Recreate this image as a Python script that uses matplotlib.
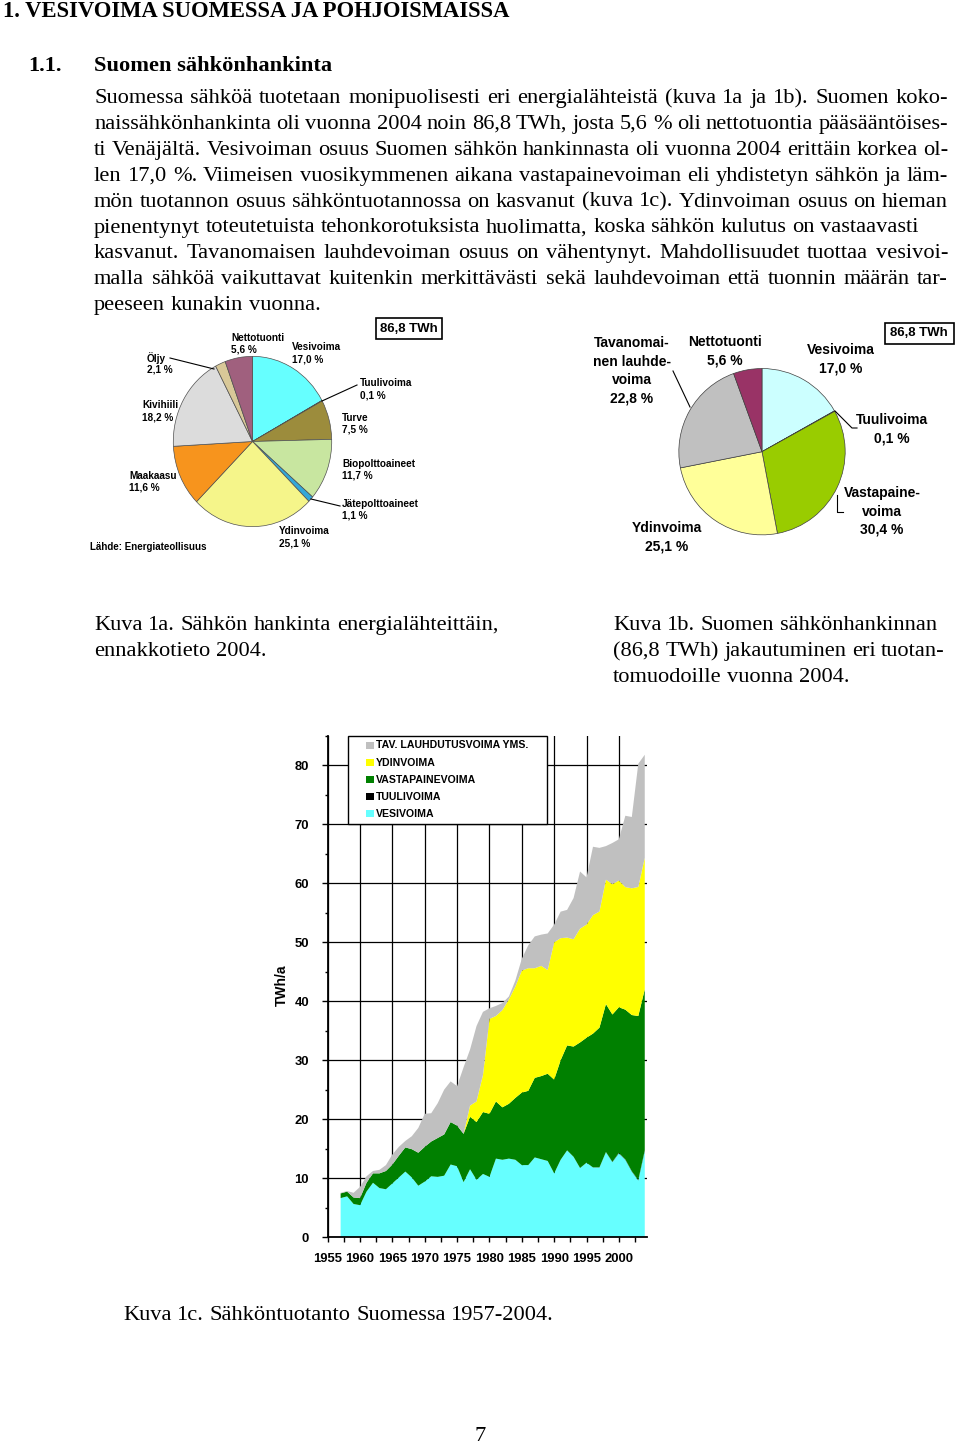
import numpy as np
import matplotlib
matplotlib.use('Agg')
import matplotlib.pyplot as plt
from matplotlib.patches import Rectangle

W, H = 960, 1444
SERIF = ['Liberation Serif', 'DejaVu Serif']
SANS = ['Liberation Sans', 'DejaVu Sans']

# ---------------------------------------------------------------- data
# Kuva 1a: hankinta energialähteittäin (%)
p1_names = ['Vesivoima', 'Tuulivoima', 'Turve', 'Biopolttoaineet',
            'Jätepolttoaineet', 'Ydinvoima', 'Maakaasu', 'Kivihiili',
            'Öljy', 'Nettotuonti']
p1_values = [17.0, 0.1, 7.5, 11.7, 1.1, 25.1, 11.6, 18.2, 2.1, 5.6]
p1_colors = ['#66FFFF', '#000000', '#9C8C3C', '#C8E6A0', '#33A8D8',
             '#F5F58A', '#F7941D', '#DCDCDC', '#D8C898', '#A0607E']

# Kuva 1b: jakautuminen tuotantomuodoille (%)
p2_names = ['Vesivoima', 'Tuulivoima', 'Vastapaine-\nvoima', 'Ydinvoima',
            'Tavanomai-\nnen lauhde-\nvoima', 'Nettotuonti']
p2_values = [17.0, 0.1, 30.4, 25.1, 22.8, 5.6]
p2_colors = ['#CCFFFF', '#000080', '#99CC00', '#FFFF99', '#C0C0C0', '#993366']

total_twh = 86.8

# Kuva 1c: sähköntuotanto 1957-2004 (TWh/a)
years = np.arange(1957, 2005)
vesi = [6.6, 6.9, 5.6, 5.4, 7.7, 9.2, 8.3, 8.1, 9.1, 10.1,
        11.1, 10.1, 8.7, 9.4, 10.3, 10.2, 10.4, 12.3, 12.0, 9.3,
        11.5, 9.7, 10.7, 10.2, 13.3, 13.1, 13.3, 13.1, 12.2, 12.2,
        13.5, 13.2, 12.9, 10.8, 13.1, 14.7, 13.6, 11.7, 12.6, 11.8,
        11.8, 14.4, 12.7, 14.2, 13.1, 11.1, 9.6, 14.6]
tuuli = [0.0] * 36 + [0.01, 0.01, 0.01, 0.01, 0.02, 0.02,
                      0.05, 0.08, 0.07, 0.06, 0.09, 0.12]
vasta = [0.8, 0.8, 1.1, 1.2, 1.5, 1.6, 2.5, 3.1, 3.2, 3.7,
         4.1, 4.8, 5.6, 5.9, 5.9, 6.6, 7.0, 7.2, 6.9, 8.2,
         8.9, 9.8, 10.5, 10.7, 9.7, 8.9, 9.3, 10.5, 12.3, 12.6,
         13.5, 14.1, 14.8, 15.9, 16.9, 17.8, 18.7, 21.3, 21.2, 22.7,
         23.7, 25.1, 25.0, 24.7, 25.4, 26.5, 27.8, 27.3]
ydin = [0.0] * 20 + [1.9, 3.5, 6.3, 16.1, 14.5, 16.5, 17.7, 18.9, 20.7, 20.8,
                     18.6, 18.7, 17.6, 23.3, 20.7, 18.3, 18.2, 19.3, 19.2, 20.1,
                     19.7, 21.1, 22.1, 21.5, 20.8, 21.5, 21.9, 22.3]
tav = [0.1, 0.1, 0.8, 1.9, 1.1, 0.4, 0.6, 1.0, 1.7, 1.5,
       1.1, 2.2, 4.2, 5.6, 4.8, 5.9, 7.6, 6.9, 6.7, 11.3,
       9.5, 12.8, 10.7, 1.8, 1.7, 1.2, 0.5, 1.0, 2.0, 3.9,
       5.4, 5.3, 6.2, 3.0, 4.5, 4.7, 7.0, 9.7, 8.0, 11.6,
       10.8, 5.7, 7.0, 7.0, 12.1, 12.1, 20.9, 17.5]
stack_names = ['VESIVOIMA', 'TUULIVOIMA', 'VASTAPAINEVOIMA', 'YDINVOIMA',
               'TAV. LAUHDUTUSVOIMA YMS.']
stack_colors = ['#66FFFF', '#000000', '#008000', '#FFFF00', '#C0C0C0']

# ---------------------------------------------------------------- text
heading = '1. VESIVOIMA SUOMESSA JA POHJOISMAISSA'
sub_no, sub_title = '1.1.', 'Suomen sähkönhankinta'
body = [
    'Suomessa sähköä tuotetaan monipuolisesti eri energialähteistä (kuva 1a ja 1b). Suomen koko-',
    'naissähkönhankinta oli vuonna 2004 noin 86,8 TWh, josta 5,6 % oli nettotuontia pääsääntöises-',
    'ti Venäjältä. Vesivoiman osuus Suomen sähkön hankinnasta oli vuonna 2004 erittäin korkea ol-',
    'len 17,0 %. Viimeisen vuosikymmenen aikana vastapainevoiman eli yhdistetyn sähkön ja läm-',
    'mön tuotannon osuus sähköntuotannossa on kasvanut (kuva 1c). Ydinvoiman osuus on hieman',
    'pienentynyt toteutetuista tehonkorotuksista huolimatta, koska sähkön kulutus on vastaavasti',
    'kasvanut. Tavanomaisen lauhdevoiman osuus on vähentynyt. Mahdollisuudet tuottaa vesivoi-',
    'malla sähköä vaikuttavat kuitenkin merkittävästi sekä lauhdevoiman että tuonnin määrän tar-',
    'peeseen kunakin vuonna.',
]
body_right = [948, 948, 948, 948, 948, None, 948, 948, None]
cap_1a = ['Kuva 1a. Sähkön hankinta energialähteittäin,', 'ennakkotieto 2004.']
cap_1b = ['Kuva 1b. Suomen sähkönhankinnan', '(86,8 TWh) jakautuminen eri tuotan-',
          'tomuodoille vuonna 2004.']
cap_1c = 'Kuva 1c. Sähköntuotanto Suomessa 1957-2004.'


def rect(l, t, w, h):
    return [l / W, 1 - (t + h) / H, w / W, h / H]


def pct(v):
    return f'{v:.1f} %'.replace('.', ',')


fig = plt.figure(figsize=(W / 100, H / 100), dpi=100)
fig.patch.set_facecolor('white')

# page layer in pixel coordinates
pg = fig.add_axes([0, 0, 1, 1], zorder=10)
pg.set_xlim(0, W); pg.set_ylim(H, 0); pg.axis('off')
rend = fig.canvas.get_renderer()


def tw(s, fs, weight='normal', family=SERIF):
    t = pg.text(0, 0, s, fontsize=fs, family=family, weight=weight)
    w = t.get_window_extent(rend).width
    t.remove()
    return w


def line_at(s, x0, y, fs, x1=None, weight='normal'):
    words = s.split(' ')
    ws = [tw(w, fs, weight) for w in words]
    if x1 is None or len(words) < 2:
        gap = tw('n n', fs, weight) - 2 * tw('n', fs, weight)
    else:
        gap = (x1 - x0 - sum(ws)) / (len(words) - 1)
    x = x0
    for w, wd in zip(words, ws):
        pg.text(x, y, w, fontsize=fs, family=SERIF, weight=weight,
                ha='left', va='baseline', color='black')
        x += wd + gap


body_fs = 14 * (921 - 94) / tw(body[5], 14)
head_fs = 14 * (513 - 3) / tw(heading, 14, 'bold')
sub_fs = 14 * (332 - 94) / tw(sub_title, 14, 'bold')

pg.text(3, 17, heading, fontsize=head_fs, family=SERIF, weight='bold',
        ha='left', va='baseline')
pg.text(28, 71, sub_no, fontsize=sub_fs, family=SERIF, weight='bold',
        ha='left', va='baseline')
pg.text(94, 71, sub_title, fontsize=sub_fs, family=SERIF, weight='bold',
        ha='left', va='baseline')

for i, (s, xr) in enumerate(zip(body, body_right)):
    line_at(s, 94, 103 + i * 25.9, body_fs, xr)

for i, s in enumerate(cap_1a):
    line_at(s, 94, 630 + i * 26, body_fs)
for i, s in enumerate(cap_1b):
    line_at(s, 613, 630 + i * 26, body_fs)
line_at(cap_1c, 123, 1320, body_fs)
pg.text(480, 1441, '7', fontsize=body_fs, family=SERIF, ha='center', va='baseline')

# ---------------------------------------------------------------- Kuva 1a
ax1 = fig.add_axes(rect(172.5, 355.5, 160, 172))
ax1.pie(p1_values, colors=p1_colors, startangle=90, counterclock=False,
        wedgeprops=dict(edgecolor='#505050', linewidth=0.5))
ax1.set_aspect('auto')
ax1.set_xlim(-1.01, 1.01); ax1.set_ylim(-1.01, 1.01)

p1_pos = [(292, 347), (360, 383), (342, 418), (342, 464), (342, 504),
          (279, 531), (129, 476), (142, 405), (147, 358), (231, 338)]
for name, v, (x, y) in zip(p1_names, p1_values, p1_pos):
    pg.text(x, y, name, fontsize=7.2, family=SANS, weight='bold',
            ha='left', va='center')
    pg.text(x, y + 12, pct(v), fontsize=7.2, family=SANS, weight='bold',
            ha='left', va='center')
pg.text(90, 547, 'Lähde: Energiateollisuus', fontsize=7.0, family=SANS,
        weight='bold', ha='left', va='center')
pg.plot([170, 214], [358, 369], color='black', lw=0.8)
pg.plot([357, 322], [385, 401], color='black', lw=0.8)
pg.plot([340, 311], [506, 499], color='black', lw=0.8)
pg.add_patch(Rectangle((376, 318), 66, 21, fill=False, ec='black', lw=1.2))
pg.text(409, 328.5, f'{total_twh:.1f} TWh'.replace('.', ','), fontsize=9.5,
        family=SANS, weight='bold', ha='center', va='center')

# ---------------------------------------------------------------- Kuva 1b
ax2 = fig.add_axes(rect(678, 367.7, 168, 168))
ax2.pie(p2_values, colors=p2_colors, startangle=90, counterclock=False,
        wedgeprops=dict(edgecolor='#404040', linewidth=0.5))
ax2.set_aspect('auto')
ax2.set_xlim(-1.01, 1.01); ax2.set_ylim(-1.01, 1.01)

p2_pos = [(841, 350), (892, 420), (882, 493), (667, 528), (632, 343), (725, 342)]
for name, v, (x, y) in zip(p2_names, p2_values, p2_pos):
    rows = name.split('\n') + [pct(v)]
    for k, r in enumerate(rows):
        pg.text(x, y + k * 18.5, r, fontsize=10.0, family=SANS, weight='bold',
                ha='center', va='center')
pg.plot([673, 690], [371, 407], color='black', lw=0.8)
pg.plot([835, 852, 857], [411, 428, 428], color='black', lw=0.8)
pg.plot([837, 837, 843], [495, 512, 512], color='black', lw=0.8)
pg.add_patch(Rectangle((884.5, 322.5), 69, 21, fill=False, ec='black', lw=1.2))
pg.text(919, 333, f'{total_twh:.1f} TWh'.replace('.', ','), fontsize=9.5,
        family=SANS, weight='bold', ha='center', va='center')

# ---------------------------------------------------------------- Kuva 1c
ax = fig.add_axes(rect(327.7, 736, 319, 501))
ax.stackplot(years, vesi, tuuli, vasta, ydin, tav, colors=stack_colors,
             linewidth=0)
ax.set_xlim(1955, 2004.3)
ax.set_ylim(0, 85)
ax.set_axisbelow(True)
ax.grid(which='major', color='black', linewidth=0.9)
for s in ['top', 'right']:
    ax.spines[s].set_visible(False)
for s in ['left', 'bottom']:
    ax.spines[s].set_linewidth(1.3)

ax.set_xticks(np.arange(1955, 2001, 5))
ax.set_xticks(np.arange(1957.5, 2004, 5), minor=True)
ax.set_yticks(np.arange(0, 81, 10))
ax.set_yticks(np.arange(5, 86, 10), minor=True)
ax.tick_params(axis='x', which='both', direction='out', length=3.5, width=1,
               pad=8, labelsize=9.4)
ax.tick_params(axis='y', which='major', direction='out', length=4.5, width=1,
               pad=9, labelsize=9.4)
ax.tick_params(axis='y', which='minor', direction='out', length=2.5, width=1)
for lab in ax.get_xticklabels() + ax.get_yticklabels():
    lab.set_fontweight('bold')
    lab.set_fontfamily(SANS)
ax.set_ylabel('TWh/a', fontsize=10, fontweight='bold', family=SANS)
ax.yaxis.set_label_coords(-0.121, 0.503)

# legend box
pg.add_patch(Rectangle((347.7, 736), 199, 87.5, fc='white', ec='black', lw=1))
for k, i in enumerate(range(len(stack_names) - 1, -1, -1)):
    yc = 745.5 + k * 17.1
    pg.add_patch(Rectangle((366, yc - 3.5), 8, 7, fc=stack_colors[i], ec='none'))
    pg.text(376, yc, stack_names[i], fontsize=7.6, family=SANS, weight='bold',
            ha='left', va='center')

fig.savefig('out.png', dpi=100, facecolor='white')
